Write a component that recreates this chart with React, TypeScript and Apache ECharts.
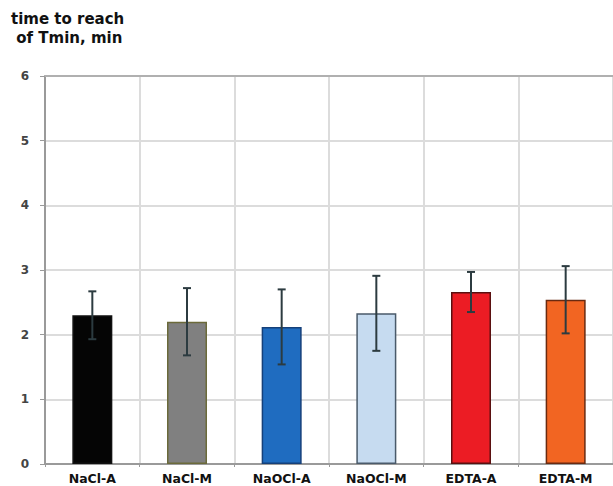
import React, { useEffect, useRef } from "react";
import * as echarts from "echarts";

const categories = ["NaCl-A", "NaCl-M", "NaOCl-A", "NaOCl-M", "EDTA-A", "EDTA-M"];
const meanValues = [2.3, 2.2, 2.12, 2.33, 2.66, 2.54];
const errorValues = [0.37, 0.52, 0.58, 0.58, 0.31, 0.52];
const barColors = ["#050505", "#808080", "#1f6cc0", "#c6dbf0", "#ec1c24", "#f26522"];
const barBorders = ["#111111", "#6b6a3a", "#15407a", "#4a5a6a", "#5a1010", "#6a2a10"];
const yTicks = [0, 1, 2, 3, 4, 5, 6];

const FONT = "DejaVu Sans, Liberation Sans, Arial, sans-serif";

export default function App() {
  const ref = useRef<HTMLDivElement>(null);

  useEffect(() => {
    if (!ref.current) return;
    const chart = echarts.init(ref.current, undefined, { renderer: "svg" });

    const errorData = meanValues.map((m, i) => [i, m - errorValues[i], m + errorValues[i]]);

    chart.setOption({
      animation: false,
      backgroundColor: "#ffffff",
      textStyle: { fontFamily: FONT },
      title: {
        text: "time to reach\n of Tmin, min",
        left: 6,
        top: 4,
        textStyle: {
          fontSize: 15,
          fontWeight: "bold",
          color: "#111111",
          lineHeight: 19,
          fontFamily: FONT,
        },
      },
      grid: { left: 45, right: 0, top: 76, bottom: 22, containLabel: false },
      xAxis: {
        type: "category",
        data: categories,
        boundaryGap: true,
        axisLine: { show: true, lineStyle: { color: "#9a9a9a", width: 2 } },
        axisTick: { show: true, length: 3, lineStyle: { color: "#9a9a9a" } },
        splitLine: { show: true, lineStyle: { color: "#dcdcdc", width: 2 } },
        axisLabel: {
          margin: 8,
          fontSize: 12.5,
          fontWeight: "bold",
          color: "#111111",
          fontFamily: FONT,
        },
      },
      yAxis: {
        type: "value",
        min: 0,
        max: 6,
        interval: 1,
        axisLine: { show: true, lineStyle: { color: "#9a9a9a", width: 2 } },
        axisTick: { show: true, length: 5, lineStyle: { color: "#9a9a9a" } },
        splitLine: { show: true, lineStyle: { color: "#dcdcdc", width: 2 } },
        axisLabel: {
          margin: 16,
          fontSize: 12,
          fontWeight: "bold",
          color: "#444444",
          fontFamily: FONT,
          formatter: (v: number) => (yTicks.includes(v) ? String(v) : ""),
        },
      },
      graphic: [
        {
          type: "line",
          shape: { x1: 45, y1: 76, x2: 613, y2: 76 },
          style: { stroke: "#b0b0b0", lineWidth: 2 },
          z: 1,
        },
      ],
      series: [
        {
          type: "bar",
          barWidth: 40,
          data: meanValues.map((v, i) => ({
            value: v,
            itemStyle: { color: barColors[i], borderColor: barBorders[i], borderWidth: 1.5 },
          })),
          z: 2,
        },
        {
          type: "custom",
          data: errorData,
          z: 3,
          renderItem: (params: any, api: any) => {
            const x = api.value(0);
            const lo = api.coord([x, api.value(1)]);
            const hi = api.coord([x, api.value(2)]);
            const cap = 4;
            const style = { stroke: "#2c3b40", lineWidth: 2 };
            return {
              type: "group",
              children: [
                { type: "line", shape: { x1: hi[0], y1: hi[1], x2: lo[0], y2: lo[1] }, style },
                { type: "line", shape: { x1: hi[0] - cap, y1: hi[1], x2: hi[0] + cap, y2: hi[1] }, style },
                { type: "line", shape: { x1: lo[0] - cap, y1: lo[1], x2: lo[0] + cap, y2: lo[1] }, style },
              ],
            };
          },
        },
      ],
    });

    return () => chart.dispose();
  }, []);

  return <div ref={ref} style={{ width: 613, height: 486, position: "absolute", left: 0, top: 0 }} />;
}
